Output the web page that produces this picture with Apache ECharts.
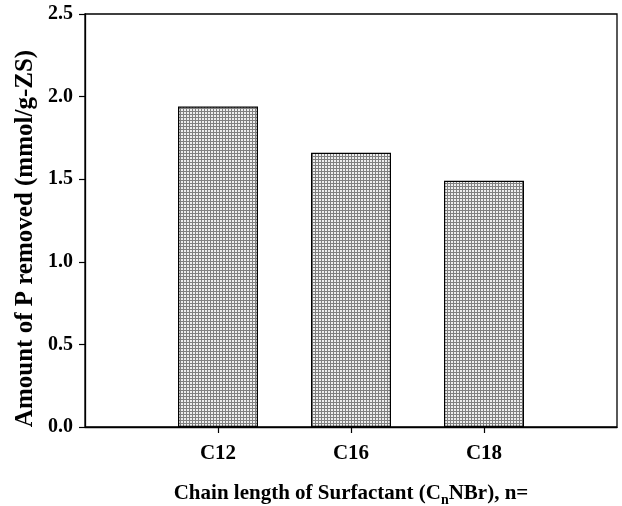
<!DOCTYPE html>
<html>
<head>
<meta charset="utf-8">
<script src="https://cdn.jsdelivr.net/npm/echarts@6/dist/echarts.min.js"></script>
<style>html,body{margin:0;padding:0;background:#fff}#c{width:622px;height:506px}</style>
</head>
<body>
<div id="c"></div>
<script>
const categories = ['', 'C12', 'C16', 'C18', ''];
const removedP = [null, 1.94, 1.66, 1.49, null];
const yTicks = ['0.0', '0.5', '1.0', '1.5', '2.0', '2.5'];

function makePattern() {
  const c = document.createElement('canvas');
  c.width = 3; c.height = 3;
  const g = c.getContext('2d');
  g.fillStyle = '#eeeeee'; g.fillRect(0, 0, 3, 3);
  g.fillStyle = '#808080';
  g.fillRect(0, 0, 3, 1);
  g.fillRect(0, 0, 1, 3);
  return c;
}

const font = 'Liberation Serif';
const chart = echarts.init(document.getElementById('c'), null, {renderer: 'canvas'});
chart.setOption({
  animation: false,
  grid: {left: 85, right: 5, top: 14, bottom: 79, show: true, borderColor: '#000', borderWidth: 1.3,
    containLabel: false, outerBoundsMode: 'none'},
  xAxis: {
    type: 'category',
    data: categories,
    boundaryGap: false,
    axisLine: {lineStyle: {color: '#000', width: 1.3}},
    axisTick: {show: true, length: 6, interval: function (i) { return i > 0 && i < categories.length - 1; }, lineStyle: {color: '#000', width: 1.2}},
    axisLabel: {fontFamily: font, fontWeight: 'bold', fontSize: 21, color: '#000', margin: 16, interval: 0},
    name: 'Chain length of Surfactant (C{sub|n}NBr), n=',
    nameLocation: 'middle',
    nameGap: 54,
    nameTextStyle: {fontFamily: font, fontWeight: 'bold', fontSize: 21, color: '#000',
      rich: {sub: {fontFamily: font, fontWeight: 'bold', fontSize: 14, color: '#000', verticalAlign: 'bottom', padding: [12, 0, 0, 0]}}},
    splitLine: {show: false}
  },
  yAxis: {
    type: 'value',
    min: 0, max: 2.5, interval: 0.5,
    axisLine: {show: true, lineStyle: {color: '#000', width: 1.3}},
    axisTick: {show: true, length: 6, lineStyle: {color: '#000', width: 1.2}},
    axisLabel: {fontFamily: font, fontWeight: 'bold', fontSize: 20, color: '#000', margin: 12,
      formatter: function (v) { return yTicks[Math.round(v / 0.5)]; }},
    splitLine: {show: false},
    name: 'Amount of P removed (mmol/g-ZS)',
    nameLocation: 'middle',
    nameGap: 47,
    nameMoveOverlap: false,
    nameTextStyle: {fontFamily: font, fontWeight: 'bold', fontSize: 25, color: '#000', padding: [0, 36, 0, 0]}
  },
  series: [{
    type: 'bar',
    data: removedP,
    barWidth: 80,
    itemStyle: {color: {image: makePattern(), repeat: 'repeat'}, borderColor: '#000', borderWidth: 1.2}
  }]
});
</script>
</body>
</html>
